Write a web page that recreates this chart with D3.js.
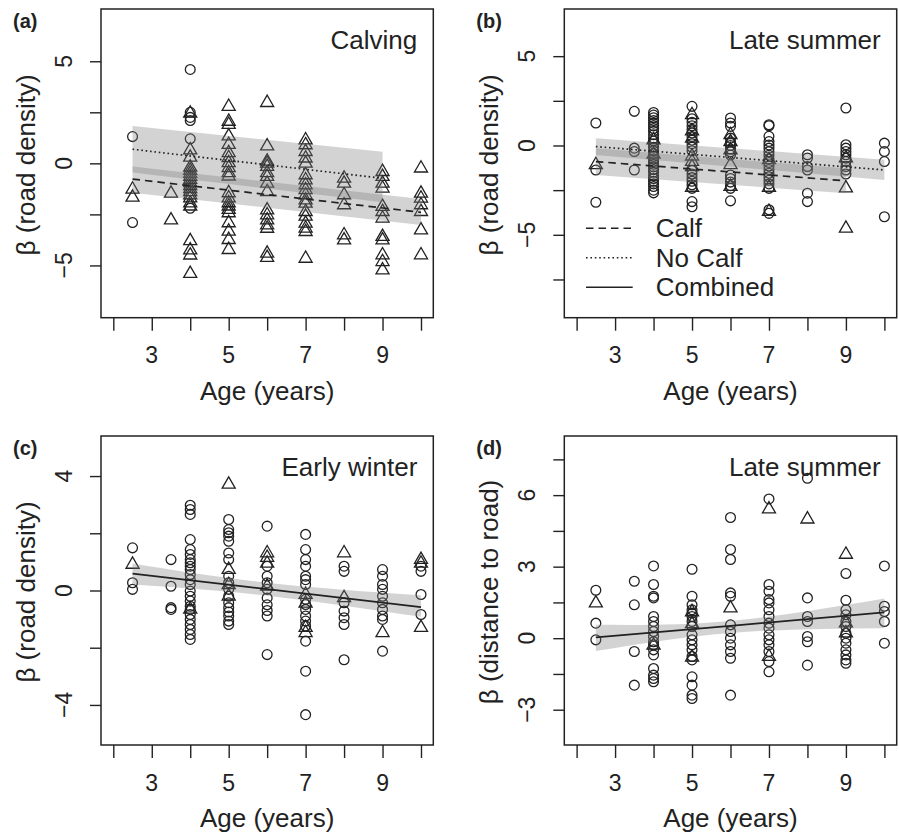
<!DOCTYPE html>
<html><head><meta charset="utf-8">
<script src="https://cdn.jsdelivr.net/npm/d3@7"></script>
<style>
body{margin:0;background:#fff}
svg{display:block}
text{font-family:"Liberation Sans",Arial,Helvetica,sans-serif;fill:#222}
</style>
</head><body>
<svg id="chart" width="899" height="836"></svg>
<script>
// ---------- shared x data ----------
const ages = [2.5, 3.5, 4, 5, 6, 7, 8, 9, 10];
const xTicks = [2, 3, 4, 5, 6, 7, 8, 9, 10];
const xTickLabels = ["", "3", "", "5", "", "7", "", "9", ""];
const xDomain = [1.68, 10.32];

// ---------- (a) Calving : values per age column ----------
const calvingCircles = [
  [1.31, -2.9], [], [4.6, 2.5, 2.25, 2.1, 1.2, -2.2], [], [], [], [], [], []
];
const calvingTriangles = [
  [-1.27, -1.67],
  [-1.47, -2.78],
  [2.45, 0.65, 0.29, -0.2, -0.35, -0.5, -0.65, -0.8, -0.95, -1.1, -1.25, -1.4, -1.55, -1.7, -1.95, -2.1, -3.8, -4.25, -4.5, -5.4],
  [2.78, 2.05, 1.9, 1.33, 0.92, 0.51, 0.27, 0.02, -0.22, -0.47, -0.63, -1.45, -1.7, -1.94, -2.1, -2.27, -2.43, -2.92, -3.33, -3.74, -4.23],
  [2.97, 0.84, 0.1, 0.0, -0.16, -0.47, -0.65, -0.98, -1.39, -2.29, -2.53, -2.78, -3.02, -3.19, -4.41, -4.62],
  [1.14, 0.9, 0.57, 0.25, 0.0, -0.57, -0.82, -1.06, -1.3, -1.55, -1.8, -1.96, -2.37, -2.6, -2.94, -3.18, -3.35, -4.66],
  [-0.73, -0.98, -1.55, -2.04, -3.51, -3.76],
  [-0.41, -0.65, -0.98, -1.22, -2.12, -2.37, -2.69, -3.59, -3.76, -4.49, -4.82, -5.23],
  [-0.24, -1.47, -1.71, -2.04, -2.37, -3.27, -4.49]
];
// rows: [age, fit, lower, upper]
const calvingCalfFit = [[2.5, -0.77, -1.44, -0.16], [10, -2.4, -3.02, -1.75]];
const calvingNoCalfFit = [[2.5, 0.69, -0.45, 1.83], [9, -0.73, -1.9, 0.57]];

// ---------- (b) Late summer (road density) ----------
const lateCircles = [
  [1.26, -1.37, -3.18],
  [1.91, -0.15, -0.34, -1.37],
  [1.85, 1.7, 1.55, 1.4, 1.25, 1.1, 0.95, 0.8, 0.6, 0.4, 0.25, 0.1, -0.1, -0.3, -0.45, -0.6, -0.75, -0.9, -1.05, -1.2, -1.35, -1.5, -1.7, -1.85, -2.0, -2.15, -2.3, -2.5, -2.65],
  [2.19, 1.5, 1.3, 1.1, 0.9, 0.7, 0.5, 0.3, 0.1, -0.1, -0.3, -1.4, -1.6, -1.8, -2.0, -2.2, -2.4, -3.14, -3.43],
  [1.54, 1.26, 1.07, 0.41, 0.2, 0.0, -0.2, -0.35, -0.53, -1.65, -1.85, -2.05, -2.25, -2.4, -3.1],
  [1.16, 1.1, 0.51, 0.22, 0.03, -0.15, -0.35, -0.55, -0.75, -0.95, -1.15, -1.35, -1.55, -1.75, -1.95, -2.15, -2.4, -3.6, -3.8],
  [-0.52, -0.7, -1.18, -1.37, -2.67, -3.14],
  [2.1, 0.04, -0.15, -0.34, -0.52, -0.71, -0.9, -1.18, -1.37, -1.6],
  [0.13, -0.34, -0.9, -3.99]
];
const lateTriangles = [
  [-1.08], [], [0.3, -0.5], [1.72, 0.8, 0.4, -0.6, -0.9, -1.2, -2.35],
  [0.6, 0.2, -0.25, -1.08, -2.3], [-0.8, -2.35, -3.7], [], [-0.7, -2.39, -4.64], []
];
const lateCalfFit = [[2.5, -0.9, -1.65, -0.15], [9, -1.98, -2.68, -1.28]];
const lateNoCalfFit = [[2.5, -0.06, -0.53, 0.41], [10, -1.37, -1.93, -0.8]];

// ---------- (c) Early winter ----------
const winterCircles = [
  [1.49, 0.27, 0.04],
  [1.08, 0.15, -0.6, -0.66],
  [2.98, 2.83, 2.66, 1.78, 1.43, 1.26, 1.08, 0.97, 0.85, 0.73, 0.56, 0.38, 0.21, -0.02, -0.2, -0.37, -0.55, -0.66, -0.84, -1.01, -1.19, -1.36, -1.54, -1.71],
  [2.48, 2.13, 2.02, 1.9, 1.72, 1.31, 1.08, 0.5, 0.27, 0.04, -0.2, -0.43, -0.6, -0.75, -0.89, -1.07, -1.19],
  [2.25, 0.85, 0.5, 0.27, 0.04, -0.26, -0.5, -0.7, -0.89, -2.24],
  [1.96, 1.43, 1.08, 0.85, 0.5, 0.38, 0.21, -0.31, -0.49, -0.66, -0.89, -1.07, -1.24, -1.77, -2.82, -4.34],
  [0.85, 0.67, -0.43, -0.72, -0.95, -1.19, -2.42],
  [0.73, 0.5, 0.21, 0.04, -0.2, -0.43, -0.66, -0.89, -1.01, -2.12],
  [0.85, 0.67, -0.14, -0.84]
];
const winterTriangles = [
  [0.91], [], [-0.66], [3.71, 0.73, 0.2, -0.2], [1.31, 1.15, 0.95, 0.15],
  [-0.14, -0.45, -1.3, -1.48], [1.31, -0.26], [-1.48], [1.08, 0.95, -1.3]
];
const winterFit = [[2.5, 0.59, 0.21, 0.94], [6, 0.05, -0.18, 0.27], [10, -0.58, -0.92, -0.17]];

// ---------- (d) Late summer (distance to road) ----------
const distCircles = [
  [2.01, 0.63, -0.07],
  [2.39, 1.4, -0.56, -1.97],
  [3.03, 2.25, 1.76, 1.69, 0.91, 0.7, 0.49, 0.28, 0.07, -0.15, -0.28, -0.49, -0.7, -1.27, -1.55, -1.69, -1.83],
  [2.89, 1.76, 1.4, 1.19, 1.05, 0.91, 0.7, 0.49, 0.14, -0.07, -0.28, -0.49, -0.77, -0.91, -1.62, -1.97, -2.39, -2.53],
  [5.06, 3.72, 3.3, 1.9, 1.76, 0.56, 0.28, 0.0, -0.28, -0.56, -0.84, -2.39],
  [5.84, 2.25, 1.97, 1.62, 1.48, 1.19, 0.91, 0.63, 0.42, 0.14, -0.07, -0.28, -0.56, -0.98, -1.41],
  [6.71, 1.69, 0.91, 0.7, 0.07, -0.15, -1.13],
  [2.71, 1.59, 1.19, 0.98, 0.7, 0.49, 0.21, 0.0, -0.21, -0.49, -0.7, -0.91, -1.05],
  [3.03, 1.34, 1.12, 0.7, -0.21]
];
const distTriangles = [
  [1.47], [], [-0.3], [1.1, 0.6, -0.8], [1.26], [5.41, -0.77], [4.99], [3.51, 0.63, 0.21], []
];
const distFit = [[2.5, 0.03, -0.54, 0.56], [6, 0.52, 0.22, 0.72], [10, 1.08, 0.42, 1.66]];

// ---------- legend ----------
const legendLabels = ["Calf", "No Calf", "Combined"];
const DASH = "7.5,5", DOT = "1.6,2.8", SOLID = null;
const legendDashes = [DASH, DOT, SOLID];

// ---------- panel table ----------
const panels = [
  {id: "a", letter: "(a)", title: "Calving", ylab: "\u03b2 (road density)",
   l: 101, r: 433.3, t: 9, b: 317.7, yDomain: [-7.56, 7.56],
   yTicks: [-5, -2.5, 0, 2.5, 5], yLabelVals: [5, 0, -5],
   circles: calvingCircles, triangles: calvingTriangles,
   fits: [{rows: calvingNoCalfFit, dash: DOT}, {rows: calvingCalfFit, dash: DASH}]},
  {id: "b", letter: "(b)", title: "Late summer", ylab: "\u03b2 (road density)",
   l: 564.3, r: 896.7, t: 9, b: 317.7, yDomain: [-9.64, 7.64],
   yTicks: [-7.5, -5, -2.5, 0, 2.5, 5], yLabelVals: [5, 0, -5],
   circles: lateCircles, triangles: lateTriangles,
   fits: [{rows: lateNoCalfFit, dash: DOT}, {rows: lateCalfFit, dash: DASH}], legend: true},
  {id: "c", letter: "(c)", title: "Early winter", ylab: "\u03b2 (road density)",
   l: 101, r: 433.3, t: 436, b: 745, yDomain: [-5.4, 5.4],
   yTicks: [-4, -2, 0, 2, 4], yLabelVals: [4, 0, -4],
   circles: winterCircles, triangles: winterTriangles,
   fits: [{rows: winterFit, dash: SOLID}]},
  {id: "d", letter: "(d)", title: "Late summer", ylab: "\u03b2 (distance to road)",
   l: 564.3, r: 896.7, t: 436, b: 745, yDomain: [-4.48, 8.48],
   yTicks: [-3, -1.5, 0, 1.5, 3, 4.5, 6, 7.5], yLabelVals: [6, 3, 0, -3],
   circles: distCircles, triangles: distTriangles,
   fits: [{rows: distFit, dash: SOLID}]}
];

const svg = d3.select("#chart");
const INK = "#222";
const fmt = v => (v < 0 ? "\u2212" + Math.abs(v) : String(v));

panels.forEach(p => {
  const g = svg.append("g");
  const x = d3.scaleLinear().domain(xDomain).range([p.l, p.r]);
  const y = d3.scaleLinear().domain(p.yDomain).range([p.b, p.t]);

  svg.append("clipPath").attr("id", "clip-" + p.id).append("rect")
    .attr("x", p.l).attr("y", p.t).attr("width", p.r - p.l).attr("height", p.b - p.t);
  const pg = g.append("g").attr("clip-path", `url(#clip-${p.id})`);

  // points
  const pts = [];
  ages.forEach((a, i) => {
    p.circles[i].forEach(v => pts.push({a, v, s: "c"}));
    p.triangles[i].forEach(v => pts.push({a, v, s: "t"}));
  });
  const circleSym = d3.symbol(d3.symbolCircle, Math.PI * 4.9 * 4.9)();
  const triSym = d3.symbol(d3.symbolTriangle, 74)();
  pg.selectAll("path.pt").data(pts).join("path").attr("class", "pt")
    .attr("transform", d => `translate(${x(d.a)},${y(d.v)})`)
    .attr("d", d => d.s === "c" ? circleSym : triSym)
    .attr("fill", "none").attr("stroke", INK).attr("stroke-width", 1.3);

  // confidence bands (semi-transparent, on top of points)
  p.fits.forEach(f => {
    const area = d3.area().x(r => x(r[0])).y0(r => y(r[2])).y1(r => y(r[3]))
      .curve(f.rows.length > 2 ? d3.curveNatural : d3.curveLinear);
    pg.append("path").attr("d", area(f.rows))
      .attr("fill", "#7a7a7a").attr("fill-opacity", 0.33);
  });
  // fitted lines
  p.fits.forEach(f => {
    const line = d3.line().x(r => x(r[0])).y(r => y(r[1]));
    pg.append("path").attr("d", line(f.rows)).attr("fill", "none")
      .attr("stroke", INK).attr("stroke-width", 1.7)
      .attr("stroke-dasharray", f.dash);
  });

  // box
  g.append("rect").attr("x", p.l).attr("y", p.t)
    .attr("width", p.r - p.l).attr("height", p.b - p.t)
    .attr("fill", "none").attr("stroke", INK).attr("stroke-width", 1.5);

  // y axis ticks
  const ya = g.append("g").attr("transform", `translate(${p.l},0)`)
    .call(d3.axisLeft(y).tickValues(p.yTicks).tickSize(11).tickFormat(""));
  ya.select(".domain").remove();
  ya.selectAll("line").attr("stroke", INK).attr("stroke-width", 1.4);
  p.yLabelVals.forEach(v => {
    g.append("text").attr("transform", `translate(${p.l - 29},${y(v)}) rotate(-90)`)
      .attr("text-anchor", "middle").attr("font-size", 23).text(fmt(v));
  });

  // x axis ticks
  const xa = g.append("g").attr("transform", `translate(0,${p.b})`)
    .call(d3.axisBottom(x).tickValues(xTicks).tickSize(13).tickFormat(""));
  xa.select(".domain").remove();
  xa.selectAll("line").attr("stroke", INK).attr("stroke-width", 1.4);
  xTicks.forEach((t, i) => {
    if (!xTickLabels[i]) return;
    g.append("text").attr("x", x(t)).attr("y", p.b + 45.5)
      .attr("text-anchor", "middle").attr("font-size", 23).text(xTickLabels[i]);
  });

  // axis titles
  g.append("text").attr("x", (p.l + p.r) / 2).attr("y", p.b + 82)
    .attr("text-anchor", "middle").attr("font-size", 26).text("Age (years)");
  g.append("text").attr("transform", `translate(${p.l - 66},${(p.t + p.b) / 2 + 1.5}) rotate(-90)`)
    .attr("text-anchor", "middle").attr("font-size", 26).text(p.ylab);

  // panel title and letter
  g.append("text").attr("x", p.r - 16).attr("y", p.t + 40)
    .attr("text-anchor", "end").attr("font-size", 26).text(p.title);
  g.append("text").attr("x", p.l - 88).attr("y", p.t + 19)
    .attr("font-size", 20).attr("font-weight", "bold").text(p.letter);

  // legend
  if (p.legend) {
    legendLabels.forEach((lab, i) => {
      const ly = p.t + 219.3 + i * 29.5;
      g.append("line").attr("x1", p.l + 21.7).attr("x2", p.l + 68.4)
        .attr("y1", ly).attr("y2", ly).attr("stroke", INK).attr("stroke-width", 1.6)
        .attr("stroke-dasharray", legendDashes[i]);
      g.append("text").attr("x", p.l + 91.4).attr("y", ly).attr("dy", "0.34em")
        .attr("font-size", 26).text(lab);
    });
  }
});
</script>
</body></html>
